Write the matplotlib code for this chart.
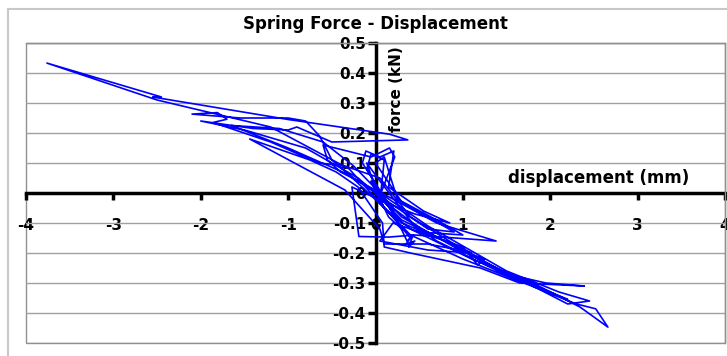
import numpy as np
import matplotlib.pyplot as plt
from matplotlib.patches import Rectangle

# displacement (mm) and spring force (kN)
disp = [0.00, 0.10, -0.05, 0.15, 0.30, 0.10, -0.10, -0.05, 0.10, 0.05,
        0.40, 0.35, 0.45, 0.38, 0.43, 0.36, 0.20, -0.15, -0.11, 0.05,
        0.21, 0.15, 0.55, 0.85, 0.45, 0.10, -0.27, -0.19, 0.15, 0.45,
        1.38, 0.70, 0.20, -0.40, -0.55, -0.60, -0.05, 0.16, 0.22, 0.05,
        0.60, 0.90, 0.30, 0.00, 0.10, 0.25, 0.70, 1.00, 0.50, 0.20,
        0.05, 0.60, 1.10, 0.80, 0.30, 0.02, -0.10, 0.05,
        0.50, 1.00, 1.17, 1.25, 0.95, 0.60, 0.10, 0.05, -0.35, -1.44,
        -0.75, -0.45, -0.20, 0.08, 0.10, 0.40, 1.20, 1.65, 2.39, 1.95,
        1.50, 0.90, 0.40, 0.05, -0.35, -0.65, -1.20, -1.86, -1.70, -1.81,
        -2.10, -1.55, -1.00, -0.80, -0.64, -0.55, -0.50, -0.30, 0.00, 0.30,
        0.80, 1.30, 1.90, 2.20, 2.00, 1.40, 0.70, 0.20, -0.20, -0.80,
        -1.50, -2.00, -1.40, -1.00, -0.90, -0.50, 0.37, 0.16, -1.00, -2.55,
        -2.45, -3.76, -2.50, -1.20, -0.30, 0.10, 0.40, 1.10, 1.80, 2.34,
        2.66, 2.52, 2.30, 1.70, 1.00, 0.40, 0.10, -0.30, -1.00, -1.65,
        -1.10, -0.60, -0.25, 0.05, 0.60, 1.50, 2.10,
        2.45, 2.20, 1.60, 0.90, 0.30, 0.00]
force = [0.000, -0.050, 0.040, -0.080, -0.120, -0.020, 0.080, 0.130, 0.110, -0.030,
         -0.150, -0.170, -0.160, -0.180, -0.140, -0.160, -0.060, 0.100, 0.140, 0.120,
         0.140, 0.020, -0.060, -0.100, -0.070, -0.030, 0.020, -0.145, -0.147, -0.140,
         -0.160, -0.100, -0.020, 0.070, 0.110, 0.160, 0.120, 0.150, 0.120, -0.010,
         -0.120, -0.130, -0.030, 0.100, 0.120, -0.020, -0.090, -0.140, -0.130, -0.100,
         -0.160, -0.190, -0.200, -0.160, -0.100, 0.000, 0.100, 0.040,
         -0.130, -0.180, -0.240, -0.220, -0.190, -0.170, -0.170, -0.120, 0.010, 0.180,
         0.110, 0.070, 0.020, -0.100, -0.180, -0.200, -0.250, -0.300, -0.310, -0.300,
         -0.270, -0.170, -0.080, 0.050, 0.090, 0.100, 0.170, 0.235, 0.246, 0.268,
         0.263, 0.250, 0.250, 0.240, 0.190, 0.140, 0.110, 0.060, 0.000, -0.090,
         -0.160, -0.240, -0.320, -0.355, -0.330, -0.260, -0.160, -0.050, 0.050, 0.150,
         0.210, 0.240, 0.215, 0.210, 0.220, 0.170, 0.177, 0.196, 0.245, 0.320,
         0.320, 0.433, 0.310, 0.220, 0.080, -0.050, -0.120, -0.220, -0.300, -0.380,
         -0.447, -0.386, -0.370, -0.300, -0.220, -0.140, -0.050, 0.060, 0.150, 0.225,
         0.215, 0.170, 0.090, 0.000, -0.110, -0.260, -0.330,
         -0.360, -0.370, -0.280, -0.180, -0.080, 0.010]

xticks = [-4, -3, -2, -1, 0, 1, 2, 3, 4]
yticks = [-0.5, -0.4, -0.3, -0.2, -0.1, 0, 0.1, 0.2, 0.3, 0.4, 0.5]

plt.rcParams['font.family'] = 'DejaVu Sans'
fig = plt.figure(figsize=(7.27, 3.56), dpi=100)
ax = fig.add_axes([26/727, 1-343/356, (725-26)/727, 300/356])

# outer chart frame
fig.patches.append(Rectangle((8/727, -0.1), 1.0, 1.1 - 9/356, transform=fig.transFigure,
                             fill=False, edgecolor='#c8c8c8', linewidth=1.5))

ax.plot(disp, force, color='#0000ff', linewidth=1.2)

ax.set_xlim(-4, 4)
ax.set_ylim(-0.5, 0.5)
ax.set_xticks(xticks)
ax.set_yticks(yticks)
ax.set_xticklabels([str(t) for t in xticks])
ax.set_yticklabels(['0' if t == 0 else f'{t:.1f}' for t in yticks])
ax.yaxis.grid(True, color='#a0a0a0', linewidth=1)
ax.set_axisbelow(True)

# axes cross at origin
ax.spines['left'].set_position(('data', 0))
ax.spines['bottom'].set_position(('data', 0))
for s in ['left', 'bottom']:
    ax.spines[s].set_linewidth(2.5)
    ax.spines[s].set_color('black')
    ax.spines[s].set_zorder(1)
for s in ['top', 'right']:
    ax.spines[s].set_color('#909090')
    ax.spines[s].set_linewidth(1)
ax.patch.set_edgecolor('#909090')
ax.patch.set_linewidth(1)

ax.tick_params(axis='x', direction='out', length=5, width=2.5, pad=13, labelsize=11)
ax.tick_params(axis='y', direction='out', length=6, width=2.5, pad=1, labelsize=11)
for lab in ax.get_xticklabels() + ax.get_yticklabels():
    lab.set_fontweight('bold')

ax.set_title('Spring Force - Displacement', fontsize=12, fontweight='bold', pad=10)
ax.text(0.24, 0.347, 'force (kN)', rotation=90, ha='center', va='center',
        fontsize=11, fontweight='bold')
ax.text(2.55, 0.05, 'displacement (mm)', ha='center', va='center',
        fontsize=12, fontweight='bold')

plt.savefig('out.png', dpi=100)
